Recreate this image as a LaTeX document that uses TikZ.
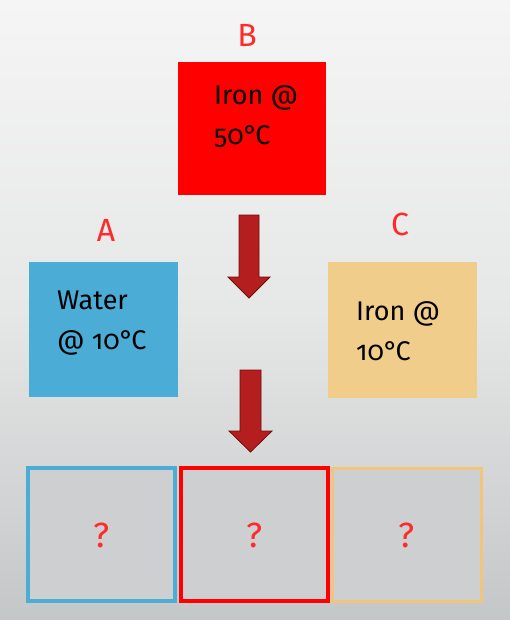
\documentclass[tikz,border=0pt]{standalone}
\usepackage{fontspec}
\setmainfont{Fira Sans}[Numbers=OldStyle]

\definecolor{bgtop}{HTML}{F5F5F5}
\definecolor{bgmid}{HTML}{E6E7E7}
\definecolor{bgbot}{HTML}{C4C7C8}
\definecolor{waterblue}{HTML}{4BACD6}
\definecolor{hotred}{HTML}{FF0000}
\definecolor{coldtan}{HTML}{F1CD8B}
\definecolor{labred}{HTML}{FF2A2A}
\definecolor{arrowfill}{HTML}{B41E1E}
\definecolor{arrowedge}{HTML}{6E0E0E}
\definecolor{unknownfill}{HTML}{CDCFD0}

\newcommand{\degc}{°\kern-2.5pt C}

\tikzset{
  sample/.style={rectangle, inner sep=0pt, draw=none},
  samplelabel/.style={text=labred, font=\fontsize{32}{36}\selectfont, inner sep=0pt, anchor=base},
  sampletext/.style={text=black, font=\fontsize{27}{40}\selectfont, align=left, inner sep=0pt, anchor=base west},
  result/.style={rectangle, inner sep=0pt, fill=unknownfill, minimum width=147pt, minimum height=133pt},
  bigarrow/.style={fill=arrowfill, draw=arrowedge, line width=0.8pt, line join=miter}
}

\begin{document}
\begin{tikzpicture}[x=1pt, y=-1pt]
    \useasboundingbox (0,0) rectangle (510,620);
    \shade[top color=bgtop, bottom color=bgbot, middle color=bgmid] (0,0) rectangle (510,620);

    % the three samples
    \node[sample, fill=hotred, minimum width=148pt, minimum height=133pt] (B) at (252,128.5) {};
    \node[sample, fill=waterblue, minimum width=149pt, minimum height=135pt] (A) at (103.5,329.5) {};
    \node[sample, fill=coldtan, minimum width=149pt, minimum height=136pt] (C) at (402.5,330) {};
    \node[samplelabel] (labB) at (247,47) {B};
    \node[samplelabel] (labA) at (106,241) {A};
    \node[samplelabel] (labC) at (400,235) {C};
    % base anchor sits on the last line
    \node[sampletext] (txtB) at (214,145) {Iron @\\50\degc};
    \node[sampletext] (txtA) at (57,349) {Water\\@ 10\degc};
    \node[sampletext] (txtC) at (356,360) {Iron @\\10\degc};

    % block arrows
    \draw[bigarrow] (239,215) -- (259,215) -- (259,277) -- (270,277) -- (249,298)
        -- (228,277) -- (239,277) -- cycle;
    \draw[bigarrow] (240,370) -- (261,370) -- (261,431) -- (272,431) -- (250.5,452)
        -- (229,431) -- (240,431) -- cycle;

    % what comes out
    \node[result, draw=waterblue, line width=4pt] (R1) at (101.5,534.5) {};
    \node[result, draw=hotred, line width=4pt] (R2) at (254.5,534.5) {};
    \node[result, draw=coldtan!90!orange, line width=3pt, minimum width=149pt] (R3) at (406.8,534.5) {};
    \node[samplelabel, font=\fontsize{35}{40}\selectfont] (q1) at (R1 |- 0,547) {?};
    \node[samplelabel, font=\fontsize{35}{40}\selectfont] (q2) at (R2 |- 0,547) {?};
    \node[samplelabel, font=\fontsize{35}{40}\selectfont] (q3) at (R3 |- 0,547) {?};
\end{tikzpicture}
\end{document}
